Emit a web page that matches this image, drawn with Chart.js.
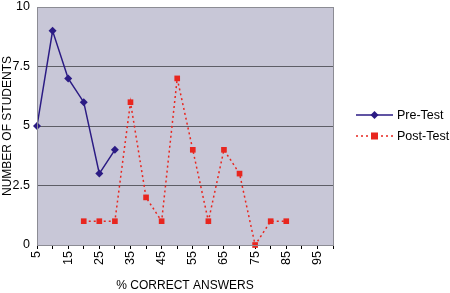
<!DOCTYPE html>
<html>
<head>
<meta charset="utf-8">
<script src="https://cdn.jsdelivr.net/npm/chart.js@4/dist/chart.umd.min.js"></script>
<style>
  html, body { margin: 0; padding: 0; background: #fff; }
  #wrap { width: 450px; height: 293px; position: relative; }
</style>
</head>
<body>
<div id="wrap"><canvas id="chart"></canvas></div>
<script>
// % correct answers (x categories)
const categories = ['5','10','15','20','25','30','35','40','45','50','55','60','65','70','75','80','85','90','95','100'];
const preTest  = [5, 9, 7, 6, 3, 4, null, null, null, null, null, null, null, null, null, null, null, null, null, null];
const postTest = [null, null, null, 1, 1, 1, 6, 2, 1, 7, 4, 1, 4, 3, 0, 1, 1, null, null, null];
const yTicks = [0, 2.5, 5, 7.5, 10];

const preColor = '#2B1B84';
const postColor = '#E8261F';
const font = '"Liberation Sans", Arial, sans-serif';

// plot background + legend drawn like the old spreadsheet style
const plotStyle = {
    id: 'plotStyle',
    beforeDraw(chart) {
        const { ctx, chartArea: a } = chart;
        ctx.save();
        ctx.fillStyle = '#C8C7D7';
        ctx.fillRect(a.left, a.top, a.right - a.left, a.bottom - a.top);
        ctx.restore();
    },
    afterDraw(chart) {
        const { ctx, chartArea: a } = chart;
        ctx.save();
        ctx.strokeStyle = '#8C8C94';
        ctx.lineWidth = 1;
        ctx.strokeRect(a.left + 0.5, a.top + 0.5, a.right - a.left, a.bottom - a.top);

        const items = [
            { label: 'Pre-Test', color: preColor, dash: [], shape: 'diamond', y: 115 },
            { label: 'Post-Test', color: postColor, dash: [2, 3], shape: 'square', y: 136 }
        ];
        items.forEach(it => {
            ctx.strokeStyle = it.color;
            ctx.lineWidth = 1.5;
            ctx.setLineDash(it.dash);
            ctx.beginPath();
            ctx.moveTo(356, it.y);
            ctx.lineTo(393, it.y);
            ctx.stroke();
            ctx.setLineDash([]);
            ctx.fillStyle = it.color;
            if (it.shape === 'diamond') {
                ctx.beginPath();
                ctx.moveTo(374.5, it.y - 4);
                ctx.lineTo(378.5, it.y);
                ctx.lineTo(374.5, it.y + 4);
                ctx.lineTo(370.5, it.y);
                ctx.closePath();
                ctx.fill();
            } else {
                ctx.fillRect(371, it.y - 3.5, 7, 7);
            }
            ctx.fillStyle = '#000';
            ctx.font = '12.5px ' + font;
            ctx.textBaseline = 'middle';
            ctx.fillText(it.label, 397, it.y + 1);
        });
        ctx.restore();
    }
};

const ctx = document.getElementById('chart').getContext('2d');
new Chart(ctx, {
    type: 'line',
    data: {
        labels: categories,
        datasets: [
            {
                label: 'Pre-Test',
                data: preTest,
                borderColor: preColor,
                backgroundColor: preColor,
                borderWidth: 1.5,
                pointStyle: 'rectRot',
                pointRadius: 4,
                pointBorderWidth: 0,
                tension: 0,
                clip: false
            },
            {
                label: 'Post-Test',
                data: postTest,
                borderColor: postColor,
                backgroundColor: postColor,
                borderWidth: 1.5,
                borderDash: [2, 3],
                pointStyle: 'rect',
                pointRadius: 4,
                pointBorderWidth: 0,
                tension: 0,
                clip: false
            }
        ]
    },
    options: {
        responsive: true,
        maintainAspectRatio: false,
        animation: false,
        layout: { padding: { top: 7, right: 117, bottom: 0, left: 0 } },
        plugins: {
            legend: { display: false },
            tooltip: { enabled: false }
        },
        scales: {
            x: {
                offset: false,
                afterFit: s => { s.height = 48; s.paddingLeft = 0; s.paddingRight = 0; },
                grid: {
                    drawOnChartArea: false,
                    drawTicks: true,
                    tickLength: 4,
                    color: '#000'
                },
                border: { display: true, color: '#000' },
                ticks: {
                    autoSkip: false,
                    maxRotation: 90,
                    minRotation: 90,
                    color: '#000',
                    padding: 2,
                    font: { size: 12.5, family: font },
                    callback: (v, i) => (i % 2 === 0 ? categories[i] : '')
                },
                title: {
                    display: true,
                    text: '% CORRECT ANSWERS',
                    color: '#000',
                    padding: { top: 10, bottom: 0 },
                    font: { size: 12, family: font }
                }
            },
            y: {
                min: 0,
                max: 10,
                afterFit: s => { s.width = 37; s.paddingTop = 0; s.paddingBottom = 0; },
                afterBuildTicks: s => { s.ticks = yTicks.map(v => ({ value: v })); },
                grid: {
                    color: '#5E5E66',
                    lineWidth: 1,
                    drawTicks: false
                },
                border: { display: true, color: '#000' },
                ticks: {
                    color: '#000',
                    padding: 7,
                    font: { size: 12.5, family: font }
                },
                title: {
                    display: true,
                    text: 'NUMBER OF STUDENTS',
                    color: '#000',
                    padding: { top: 0, bottom: 2 },
                    font: { size: 12, family: font }
                }
            }
        }
    },
    plugins: [plotStyle]
});
</script>
</body>
</html>
